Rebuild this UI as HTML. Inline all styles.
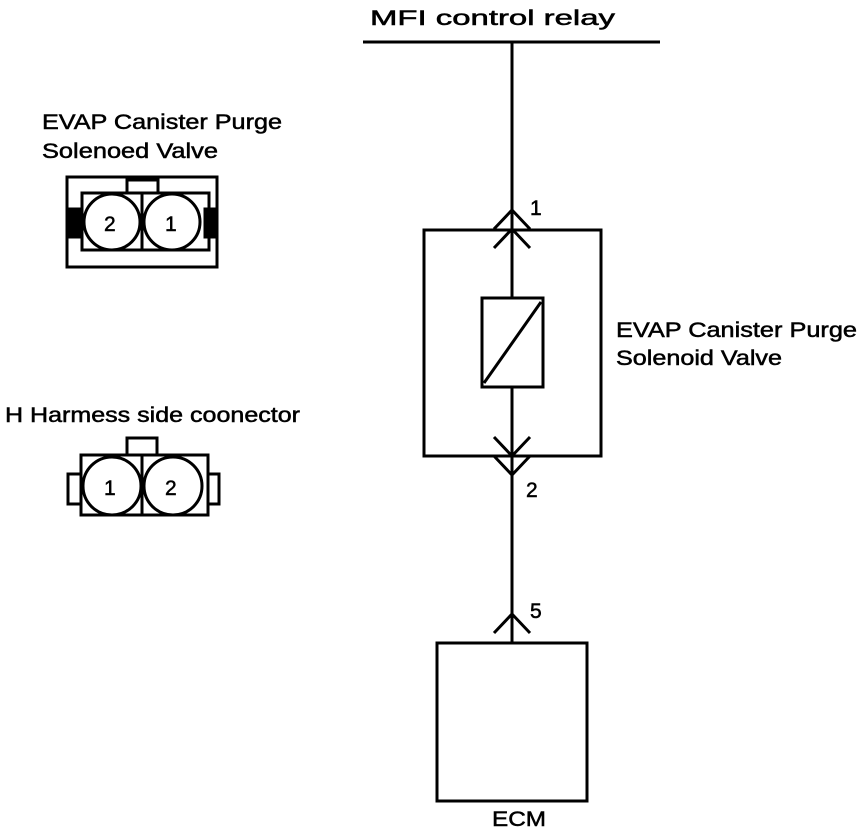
<!DOCTYPE html>
<html><head><style>
body{margin:0;background:#fff;}
svg text{font-family:"Liberation Sans",Arial,sans-serif;font-size:21px;fill:#000;stroke:#000;stroke-width:0.5;}
</style></head><body>
<svg width="864" height="832" viewBox="0 0 864 832" xmlns="http://www.w3.org/2000/svg">
<g stroke="#000" stroke-width="3" fill="none">
<line x1="363" y1="42" x2="660" y2="42"/>
<line x1="512" y1="42" x2="512" y2="642"/>
<rect x="424" y="230" width="177" height="226"/>
<rect x="482" y="298" width="61" height="89" fill="#fff"/>
<line x1="484" y1="383" x2="541" y2="302"/>
<polyline points="494,229 512,210 530,229"/>
<polyline points="494,248 512,229 530,248"/>
<polyline points="494,437 512,456 530,437"/>
<polyline points="494,456 512,475 530,456"/>
<polyline points="494,633 512,614 530,633"/>
<rect x="437" y="643" width="150" height="158"/>
<rect x="67" y="177" width="150" height="90"/>
<rect x="82" y="193" width="127" height="57"/>
<rect x="127" y="180" width="31" height="13" fill="#fff"/>
<line x1="142" y1="193" x2="142" y2="250"/>
<circle cx="112" cy="222" r="28" fill="#fff"/>
<circle cx="172" cy="222" r="28" fill="#fff"/>
<rect x="68" y="209" width="13" height="28" fill="#000"/>
<rect x="205" y="209" width="11" height="28" fill="#000"/>
<rect x="127" y="438" width="30" height="17"/>
<rect x="81" y="455" width="127" height="60"/>
<rect x="68" y="474" width="13" height="30"/>
<rect x="208" y="474" width="11" height="30"/>
<line x1="142" y1="455" x2="142" y2="515"/>
<circle cx="112" cy="486" r="29" fill="#fff"/>
<circle cx="173" cy="486" r="29" fill="#fff"/>
</g>
<text x="370" y="25" textLength="245" lengthAdjust="spacingAndGlyphs">MFI control relay</text>
<text x="530" y="215" font-size="22">1</text>
<text x="526" y="497" font-size="22">2</text>
<text x="530" y="618" font-size="22">5</text>
<text x="616" y="337" textLength="241" lengthAdjust="spacingAndGlyphs">EVAP Canister Purge</text>
<text x="616" y="365" textLength="166" lengthAdjust="spacingAndGlyphs">Solenoid Valve</text>
<text x="492" y="826" textLength="54" lengthAdjust="spacingAndGlyphs">ECM</text>
<text x="42" y="129" textLength="240" lengthAdjust="spacingAndGlyphs">EVAP Canister Purge</text>
<text x="42" y="158" textLength="176" lengthAdjust="spacingAndGlyphs">Solenoed Valve</text>
<text x="5" y="422" textLength="295" lengthAdjust="spacingAndGlyphs">H Harmess side coonector</text>
<text x="104" y="231" font-size="22">2</text>
<text x="165" y="231" font-size="22">1</text>
<text x="104" y="495" font-size="22">1</text>
<text x="165" y="495" font-size="22">2</text>
</svg>
</body></html>
